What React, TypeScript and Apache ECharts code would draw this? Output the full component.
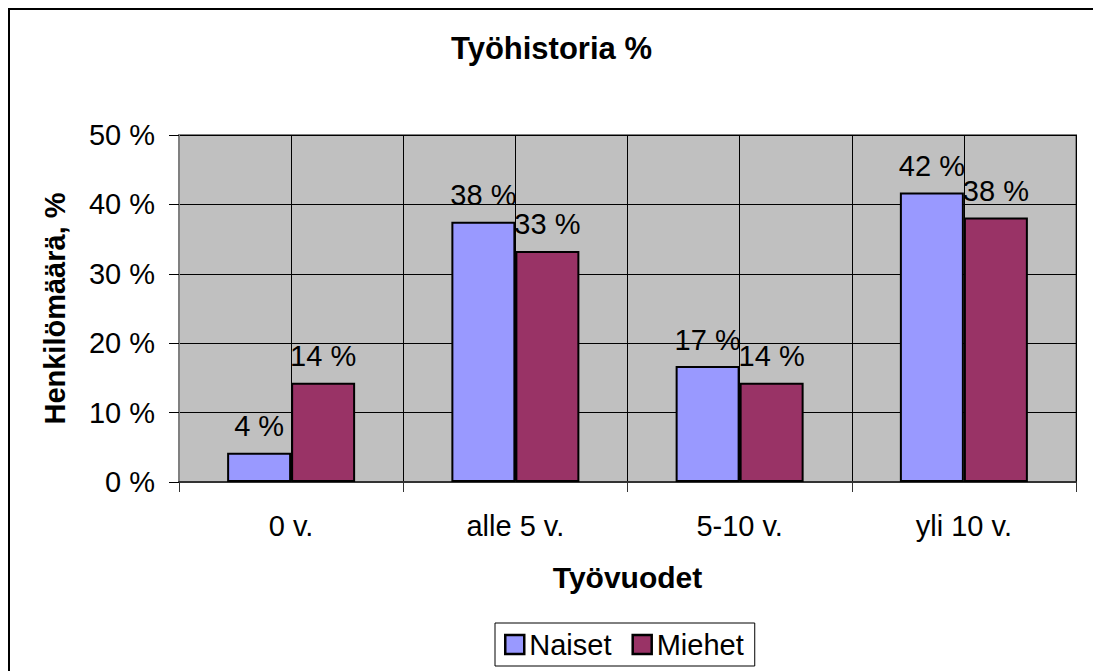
import React, { useEffect, useRef } from "react";
import * as echarts from "echarts";

const categories = ["0 v.", "alle 5 v.", "5-10 v.", "yli 10 v."];
const naiset = [4.2, 37.5, 16.7, 41.7];
const miehet = [14.3, 33.3, 14.3, 38.1];
const seriesNames = ["Naiset", "Miehet"];
const yTicks = { min: 0, max: 50, interval: 10 };

const FONT = "'Liberation Sans', Arial, sans-serif";

export default function App() {
  const ref = useRef<HTMLDivElement>(null);
  useEffect(() => {
    if (!ref.current) return;
    document.body.style.overflow = "hidden";
    const chart = echarts.init(ref.current, null, { renderer: "svg" });
    const label = {
      show: true,
      position: "top",
      distance: 12,
      color: "#000",
      fontSize: 29,
      fontFamily: FONT,
      formatter: (p: any) => Math.round(p.value) + " %",
    };
    chart.setOption({
      animation: false,
      backgroundColor: "#fff",
      textStyle: { fontFamily: FONT },
      title: {
        text: "Työhistoria %",
        left: 446,
        top: 28,
        textStyle: { fontSize: 31, fontWeight: "bold", color: "#000", fontFamily: FONT },
      },
      graphic: [
        {
          type: "polyline",
          shape: { points: [[9, 700], [9, 9], [1120, 9]] },
          style: { fill: "none", stroke: "#000", lineWidth: 2 },
          silent: true,
        },
      ],
      legend: {
        data: seriesNames,
        left: 495,
        top: 623,
        orient: "horizontal",
        padding: [7, 11, 7, 9],
        borderColor: "#000",
        borderWidth: 1,
        itemGap: 20,
        itemWidth: 19,
        itemHeight: 19,
        icon: "rect",
        itemStyle: { borderColor: "#000", borderWidth: 2.5 },
        textStyle: { fontSize: 29, color: "#000", fontFamily: FONT },
      },
      grid: {
        left: 179,
        top: 135,
        right: 17,
        bottom: 189,
        show: true,
        backgroundColor: "#C0C0C0",
        borderColor: "#808080",
        borderWidth: 2,
      },
      xAxis: [
        {
          type: "category",
          data: categories,
          name: "Työvuodet",
          nameLocation: "middle",
          nameGap: 80,
          nameTextStyle: { fontSize: 30, fontWeight: "bold", color: "#000", fontFamily: FONT },
          axisLine: { show: true, lineStyle: { color: "#333", width: 2 } },
          axisTick: { show: true, length: 10, lineStyle: { color: "#333", width: 1 } },
          axisLabel: { fontSize: 29, color: "#000", margin: 29, fontFamily: FONT },
          splitLine: { show: false },
        },
        {
          type: "value",
          min: 0,
          max: 8,
          interval: 1,
          position: "top",
          axisLine: { show: false },
          axisTick: { show: false },
          axisLabel: { show: false },
          splitLine: { show: true, lineStyle: { color: "#000", width: 1 } },
        },
      ],
      yAxis: {
        type: "value",
        min: yTicks.min,
        max: yTicks.max,
        interval: yTicks.interval,
        name: "Henkilömäärä, %",
        nameLocation: "middle",
        nameGap: 110,
        nameTextStyle: { fontSize: 29, fontWeight: "bold", color: "#000", fontFamily: FONT },
        axisLine: { show: true, lineStyle: { color: "#808080", width: 2 } },
        axisTick: { show: true, length: 10, lineStyle: { color: "#000", width: 1 } },
        axisLabel: { fontSize: 29, color: "#000", margin: 24, formatter: "{value} %", fontFamily: FONT },
        splitLine: { show: true, lineStyle: { color: "#000", width: 1 } },
      },
      series: [
        {
          name: seriesNames[0],
          type: "bar",
          xAxisIndex: 0,
          data: naiset,
          barWidth: 64,
          barGap: "0%",
          itemStyle: { color: "#9999FF", borderColor: "#000", borderWidth: 2 },
          label,
        },
        {
          name: seriesNames[1],
          type: "bar",
          xAxisIndex: 0,
          data: miehet,
          barWidth: 64,
          barGap: "0%",
          itemStyle: { color: "#993366", borderColor: "#000", borderWidth: 2 },
          label,
        },
      ],
    });
    return () => chart.dispose();
  }, []);
  return (
    <div
      ref={ref}
      style={{ position: "absolute", left: 0, top: 0, width: 1093, height: 671 }}
    />
  );
}
